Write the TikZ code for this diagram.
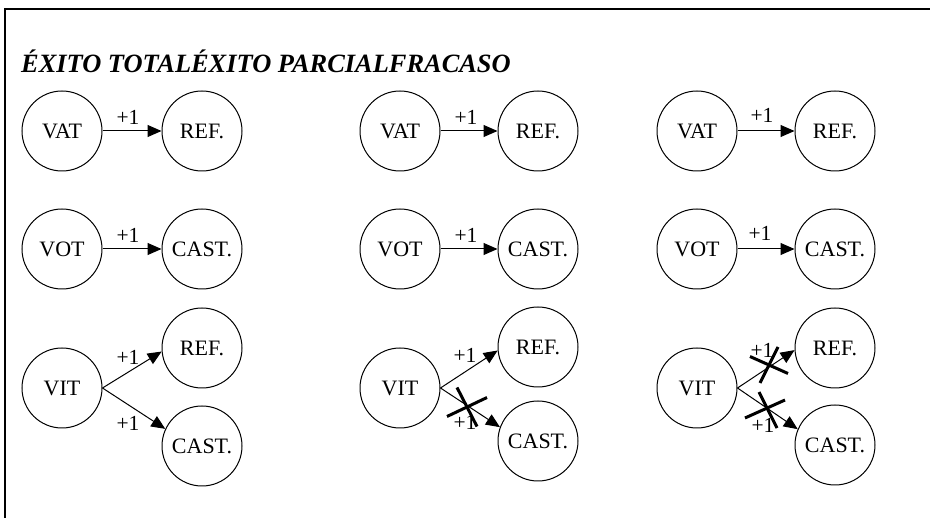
\documentclass[tikz,border=0pt]{standalone}
\usepackage{fontspec}
\setmainfont{Liberation Serif}
\usetikzlibrary{arrows.meta,calc}
\tikzset{
  st/.style={circle, draw, line width=1pt, minimum size=80pt, inner sep=0pt,
    font=\fontsize{22}{24}\selectfont},
  lbl/.style={inner sep=0pt, font=\fontsize{21.5}{24}\selectfont},
  conn/.style={line width=1pt, -{Triangle[length=14pt,width=12pt]}},
  cross/.style={line width=3pt},
  frame/.style={line width=1.3pt}
}
\begin{document}
\begin{tikzpicture}[x=1pt,y=-1pt]
\useasboundingbox (0,0) rectangle (930,518);
\coordinate (fa) at (5,9);
\coordinate (fb) at (930,9);
\coordinate (fc) at (5,518);
\draw[frame] (fc) -- (fa) -- (fb);
\node[anchor=base west, inner sep=0pt, font=\fontsize{26.4}{30}\selectfont\bfseries\itshape] (title) at (21,73) {ÉXITO TOTALÉXITO PARCIALFRACASO};
% column 1
\node[st] (vat1) at (62,131) {VAT};
\node[st] (ref1a) at (202,131) {REF.};
\node[st] (vot1) at (62,249) {VOT};
\node[st] (cast1a) at (202,249) {CAST.};
\node[st] (vit1) at (62,388) {VIT};
\node[st] (ref1b) at (202,348) {REF.};
\node[st] (cast1b) at (202,446) {CAST.};
\draw[conn] (vat1) -- (ref1a);
\draw[conn] (vot1) -- (cast1a);
\draw[conn] (vit1.east) -- (ref1b.185);
\draw[conn] (vit1.east) -- (cast1b.155);
\node[lbl] (l1a) at (128,117) {+1};
\node[lbl] (l1b) at (128,235) {+1};
\node[lbl] (l1c) at (128,357) {+1};
\node[lbl] (l1d) at (128,423) {+1};
% column 2
\node[st] (vat2) at (400,131) {VAT};
\node[st] (ref2a) at (538,131) {REF.};
\node[st] (vot2) at (400,249) {VOT};
\node[st] (cast2a) at (538,249) {CAST.};
\node[st] (vit2) at (400,388) {VIT};
\node[st] (ref2b) at (538,347) {REF.};
\node[st] (cast2b) at (538,441) {CAST.};
\draw[conn] (vat2) -- (ref2a);
\draw[conn] (vot2) -- (cast2a);
\draw[conn] (vit2.east) -- (ref2b.185);
\draw[conn] (vit2.east) -- (cast2b.160);
\node[lbl] (l2a) at (466,117) {+1};
\node[lbl] (l2b) at (466,235) {+1};
\node[lbl] (l2c) at (465,355) {+1};
\node[lbl] (l2d) at (465,422) {+1};
\coordinate (x2) at (467,407);
\draw[cross] ($(x2)+(-10,-19.5)$) -- ($(x2)+(10,19.5)$);
\draw[cross] ($(x2)+(-20,9.5)$) -- ($(x2)+(20,-9.5)$);
% column 3
\node[st] (vat3) at (697,131) {VAT};
\node[st] (ref3a) at (835,131) {REF.};
\node[st] (vot3) at (697,249) {VOT};
\node[st] (cast3a) at (835,249) {CAST.};
\node[st] (vit3) at (697,388) {VIT};
\node[st] (ref3b) at (835,348) {REF.};
\node[st] (cast3b) at (835,445) {CAST.};
\draw[conn] (vat3) -- (ref3a);
\draw[conn] (vot3) -- (cast3a);
\draw[conn] (vit3.east) -- (ref3b.183);
\draw[conn] (vit3.east) -- (cast3b.157);
\node[lbl] (l3a) at (762,115) {+1};
\node[lbl] (l3b) at (760,233) {+1};
\node[lbl] (l3c) at (762,350) {+1};
\node[lbl] (l3d) at (763,425) {+1};
\coordinate (x3a) at (769,365);
\draw[cross] ($(x3a)+(-19,-8.5)$) -- ($(x3a)+(19,8.5)$);
\draw[cross] ($(x3a)+(9,-18)$) -- ($(x3a)+(-9,18)$);
\coordinate (x3b) at (767,410);
\draw[cross] ($(x3b)+(-8,-18)$) -- ($(x3b)+(10,18)$);
\draw[cross] ($(x3b)+(-22,8)$) -- ($(x3b)+(18,-10)$);
\end{tikzpicture}
\end{document}
